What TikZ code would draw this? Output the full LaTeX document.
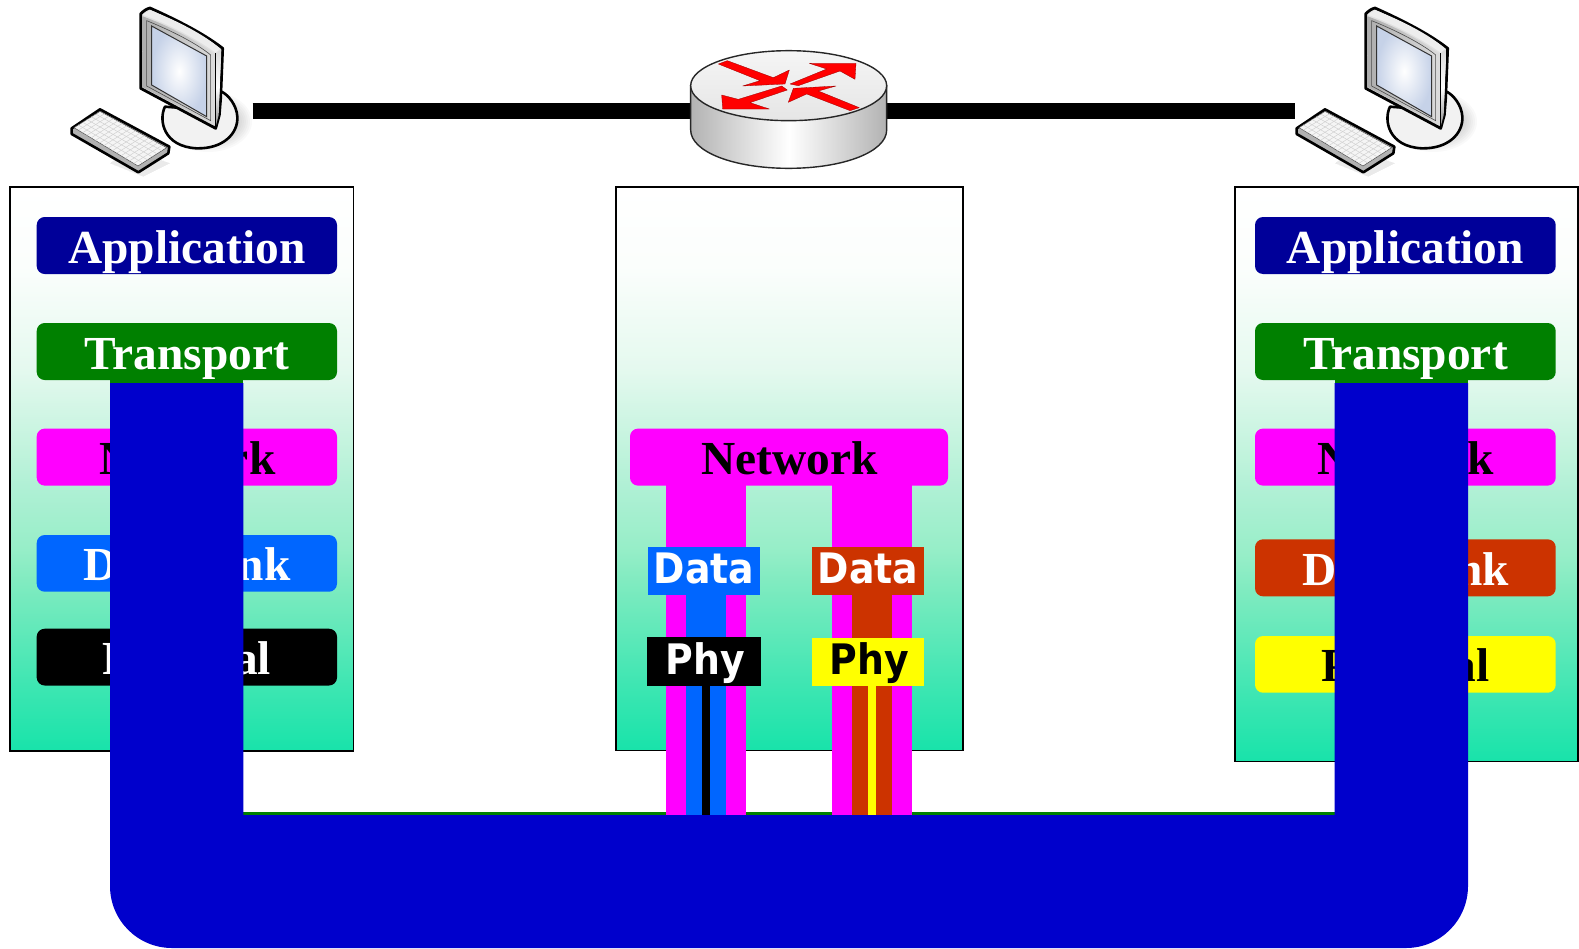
\documentclass[tikz,border=0pt]{standalone}
\usepackage{fontspec}
\setmainfont{Liberation Serif}
\newfontfamily\datafont[FakeStretch=0.9]{DejaVu Sans}
\definecolor{cApp}{HTML}{000099}
\definecolor{cTrans}{HTML}{008000}
\definecolor{cNet}{HTML}{FF00FF}
\definecolor{cBlue}{HTML}{0066FF}
\definecolor{cRed}{HTML}{CC3300}
\definecolor{cYel}{HTML}{FFFF00}
\definecolor{cPipe}{HTML}{0000CC}
\definecolor{cScreen}{HTML}{C6D2E8}
\definecolor{g0}{HTML}{FFFFFF}
\definecolor{g1}{HTML}{FBFEFC}
\definecolor{g2}{HTML}{E5F9EF}
\definecolor{g3}{HTML}{C0F3DC}
\definecolor{g4}{HTML}{B0F0D5}
\definecolor{g5}{HTML}{97EEC8}
\definecolor{g6}{HTML}{80EBC0}
\definecolor{g7}{HTML}{3DE6B2}
\definecolor{g8}{HTML}{18E3AA}
\pgfdeclareverticalshading{stackshade}{100bp}{color(0bp)=(g8); color(25bp)=(g8); color(30.7bp)=(g7); color(40bp)=(g6); color(43bp)=(g5); color(48.5bp)=(g4); color(51.5bp)=(g3); color(59bp)=(g2); color(68bp)=(g1); color(75bp)=(g0); color(100bp)=(g0)}
\tikzset{
  stackbox/.style={draw=black,line width=1.6pt,shading=stackshade},
  serifw/.style={anchor=base,inner sep=0pt,text=white,font=\fontsize{47.4}{50}\selectfont\bfseries},
  serifk/.style={serifw,text=black},
  dataw/.style={anchor=base,inner sep=0pt,text=white,font=\fontsize{42}{46}\selectfont\datafont\bfseries},
  datak/.style={dataw,text=black},
  flatbox/.style={inner sep=0pt,outer sep=0pt,draw=none},
  outline/.style={draw=black,line width=1.6pt,line join=round},
  redarrow/.style={fill=red,draw=red!60!black,line width=.3pt,line join=round},
  wire/.style={line width=16.3pt,draw=black}
}
\newcommand\layerrect[6]{\path[fill=#6,rounded corners=8pt] (#2,#3) rectangle (#4,#5) coordinate[pos=.5] (#1);}
\newcommand\pcicon[1]{%
\begin{scope}[shift={#1},scale=0.33333]
  % soft shadows
  \foreach \e in {0,6,...,36}{
    \fill[black,opacity=.025] (475,365) ellipse ({95+\e} and {55+\e});
    \fill[black,opacity=.012] (240,445) -- (360,490) -- (280,530) -- (180,490) -- cycle;
  }
  % base
  \path[outline,line width=2.6pt,fill=black!5] (345,320) .. controls (325,360) and (340,440) .. (440,445)
     .. controls (520,447) and (565,400) .. (562,350) .. controls (560,315) and (535,285) .. (515,275) -- (470,330) -- cycle;
  % monitor top strip and side
  \path[draw=black,line width=2.8pt,fill=black!12,line join=round] (272,42) .. controls (280,33) and (290,26) .. (300,24)
     .. controls (380,60) and (460,100) .. (518,145) -- (512,295) -- (508,345) -- (497,385) -- (272,265) -- cycle;
  \shade[bottom color=black!45,top color=black!15,middle color=white] (497,160) -- (514,148) -- (506,345) -- (497,380) -- cycle;
  \fill[black!7] (278,44) -- (300,30) .. controls (380,62) and (460,102) .. (511,146) -- (497,158) .. controls (430,110) and (350,70) .. (278,44) -- cycle;
  \shade[left color=black!32,right color=black!14] (278,49) .. controls (350,75) and (430,115) .. (494,162) -- (494,376) -- (277,261) -- cycle;
  \draw[black!70,line width=.6pt] (290,62) .. controls (360,90) and (440,130) .. (482,165) -- (482,362) -- (290,258) -- cycle;
  \draw[black,line width=.6pt] (497,160) -- (497,385);
  % screen
  \path[inner color=white,outer color=cScreen,draw=black!80,line width=1pt] (305,78) -- (470,168) -- (470,350) -- (305,255) -- cycle;
  % keyboard
  \path[draw=black,line width=2.6pt,fill=black!30,line join=round] (65,385) -- (150,328) -- (358,440) -- (355,460) -- (265,517) -- (65,402) -- cycle;
  \path[fill=black!4,draw=black!70,line width=.5pt] (72,383) -- (150,334) -- (350,443) -- (264,498) -- cycle;
  \foreach \t in {1,...,14}{\draw[black!18,line width=.5pt] ($(72,383)!\t/15!(264,498)$) -- ($(150,334)!\t/15!(350,443)$);}
  \foreach \t in {1,...,5}{\draw[black!18,line width=.5pt] ($(72,383)!\t/6!(150,334)$) -- ($(264,498)!\t/6!(350,443)$);}
\end{scope}}
\usetikzlibrary{calc}
\begin{document}
\begin{tikzpicture}[x=1pt,y=-1pt]
\useasboundingbox (0,0) rectangle (1579,948);
% connector ends
\coordinate (pcLport) at (252.7,111.2);
\coordinate (routerL) at (700,111.2);
\coordinate (routerR) at (880,111.2);
\coordinate (pcRport) at (1295,111.2);
\draw[wire] (pcLport) -- (routerL);
\draw[wire] (routerR) -- (pcRport);
% computers
\pcicon{(50,0)}
\pcicon{(1275,0)}
% router
\begin{scope}[shift={(670,40)},scale=0.33333]
  \path[left color=black!30,right color=black!30,middle color=white,draw=black!85,line width=1.4pt]
    (62,137) -- (62,270) .. controls (62,335) and (190,385) .. (356,385) .. controls (522,385) and (650,335) .. (650,270) -- (650,137) -- cycle;
  \path[top color=black!4,bottom color=black!10,draw=black!85,line width=1.4pt] (356,137) ellipse (294 and 105);
  \path[redarrow] (145,72) -- (172,62) -- (310,113) -- (358,90) -- (345,132) -- (218,138) -- (270,122) -- cycle;
  \path[redarrow] (360,132) -- (470,87) -- (418,70) -- (558,70) -- (555,118) -- (510,93) -- (385,137) -- cycle;
  \path[redarrow] (335,138) -- (352,150) -- (240,188) -- (298,207) -- (158,207) -- (155,165) -- (205,178) -- cycle;
  \path[redarrow] (568,203) -- (540,212) -- (410,162) -- (355,187) -- (370,145) -- (498,138) -- (445,153) -- cycle;
\end{scope}
% stacks
\path[stackbox] (10,187) rectangle (353.5,751);
\path[stackbox] (616,187) rectangle (963,750.5);
\path[stackbox] (1235,187) rectangle (1578,761.5);
% left layers
\layerrect{La}{36.7}{217}{337}{274}{cApp}
\layerrect{Lt}{36.7}{323}{337}{380}{cTrans}
\layerrect{Ln}{36.7}{428.6}{337}{485.6}{cNet}
\layerrect{Ld}{36.7}{535}{337}{591.7}{cBlue}
\layerrect{Lp}{36.7}{628.7}{337}{685.5}{black}
\node[serifw] (tLa) at (186.9,263) {Application};
\node[serifw] (tLt) at (186.9,369) {Transport};
\node[serifk] (tLn) at (187.2,474.3) {Network};
\node[serifw] (tLd) at (187.2,580) {Data Link};
\node[serifw] (tLp) at (186.8,674.8) {Physical};
% right layers
\layerrect{Ra}{1255}{217}{1555.7}{274}{cApp}
\layerrect{Rt}{1255}{323}{1555.7}{380}{cTrans}
\layerrect{Rn}{1255}{428.6}{1555.7}{485.6}{cNet}
\layerrect{Rd}{1255}{539.3}{1555.7}{596.3}{cRed}
\layerrect{Rp}{1255}{636}{1555.7}{692.7}{cYel}
\node[serifw] (tRa) at (1405.5,263) {Application};
\node[serifw] (tRt) at (1405.5,369) {Transport};
\node[serifk] (tRn) at (1405.8,474.3) {Network};
\node[serifw] (tRd) at (1405.8,585.7) {Data Link};
\node[serifk] (tRp) at (1405.3,681.7) {Physical};
% pipe: green copy behind, blue on top
\def\pipepath{(110,383) -- (110,886) arc[start angle=180,end angle=90,radius=62] -- (1406,948) arc[start angle=90,end angle=0,radius=62] -- (1468,383) -- (1334.7,383) -- (1334.7,815) -- (243.3,815) -- (243.3,383) -- cycle}
\fill[cTrans] (243.3,811.7) rectangle (1334.7,815.5);
\fill[cTrans] (110,379) rectangle (243.3,384);
\fill[cTrans] (1334.7,379) rectangle (1468,384);
\fill[cPipe] \pipepath;
% router stack
\fill[cNet] (665.7,484) rectangle (745.7,815);
\fill[cNet] (832,484) rectangle (912,815);
\layerrect{Mn}{630}{428.6}{948}{485.6}{cNet}
\node[serifk] (tMn) at (789.7,474.3) {Network};
\fill[cBlue] (685.7,594) rectangle (725.7,815);
\fill[cRed] (852,594) rectangle (892,815);
\fill[black] (701.7,685) rectangle (709.7,815);
\fill[cYel] (868,685) rectangle (876,815);
\node[flatbox,fill=cBlue,minimum width=112pt,minimum height=48pt] (Md1) at (704,571) {};
\node[flatbox,fill=cRed,minimum width=112pt,minimum height=48pt] (Md2) at (868,571) {};
\node[flatbox,fill=black,minimum width=114pt,minimum height=49.6pt] (Mp1) at (704,661.5) {};
\node[flatbox,fill=cYel,minimum width=112pt,minimum height=47.7pt] (Mp2) at (868,661.8) {};
\node[dataw] (tMd1) at (704,583.3) {Data};
\node[dataw] (tMd2) at (868,583.3) {Data};
\node[dataw] (tMp1) at (705.5,674) {Phy};
\node[datak] (tMp2) at (869,674) {Phy};
\end{tikzpicture}
\end{document}
